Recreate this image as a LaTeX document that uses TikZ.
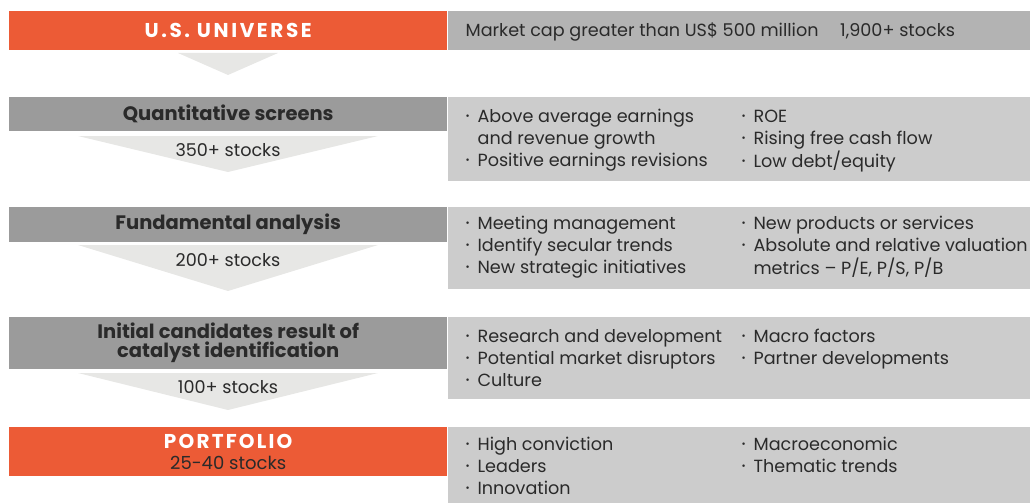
\documentclass[tikz,border=0pt]{standalone}
\usepackage{fontspec}
\setmainfont{Poppins}
\definecolor{brandorange}{HTML}{EC5B36}
\definecolor{stepgray}{HTML}{9B9B9B}
\definecolor{notegray}{HTML}{CCCCCC}
\definecolor{topgray}{HTML}{B3B3B3}
\definecolor{funnelgray}{HTML}{E7E7E5}
\definecolor{ink}{HTML}{2A2A2A}
\newcommand{\bul}{\makebox[12pt][l]{\raisebox{0.3ex}{\fontsize{10}{10}\selectfont •}}}
\newcommand{\ind}{\hspace*{12pt}}
\newcommand{\lines}[1]{\begin{tabular}[t]{@{}l@{}}#1\end{tabular}}

\begin{document}
\begin{tikzpicture}[x=1pt,y=-1pt,font=\fontsize{17.6}{22.3}\selectfont,text=ink,
  stepbar/.style={anchor=north west,inner sep=0pt,minimum width=438pt,align=center,
    font=\fontsize{19.5}{19}\selectfont\bfseries},
  notebox/.style={anchor=north west,inner sep=0pt,minimum width=583pt,fill=notegray},
  items/.style={anchor=base west,inner sep=0pt},
  count/.style={inner sep=0pt}]
\useasboundingbox (0,0) rectangle (1030,503);

% funnel arrows between the steps
\foreach \top/\tip/\hw in {53/75/50,136/172/150,245/291/150,373/410/150}
  \fill[funnelgray] (228-\hw,\top) -- (228+\hw,\top) -- (228,\tip) -- cycle;

% U.S. universe
\node[stepbar,fill=brandorange,minimum height=39pt,text=white,
  font=\fontsize{20}{20}\selectfont\bfseries\addfontfeature{LetterSpace=13}] (univ) at (9,11) {U.S. UNIVERSE};
\node[notebox,fill=topgray,minimum height=39pt] (univnote) at (univ.north east) {};
\node[items] (univtxt) at ([shift={(18,26)}]univnote.north west)
  {Market cap greater than US\$ 500 million\hspace{17pt} 1,900+ stocks};

% quantitative screens
\node[stepbar,fill=stepgray,minimum height=34pt] (quant) at (9,97) {Quantitative screens};
\node[notebox,minimum height=84pt] (quantnote) at (quant.north east) {};
\node[count] (quantn) at (228,150) {350+ stocks};
\node[items] (quanta) at ([shift={(18,25)}]quantnote.north west)
  {\lines{\bul Above average earnings\\\ind and revenue growth\\\bul Positive earnings revisions}};
\node[items] (quantb) at ([shift={(294,25)}]quantnote.north west)
  {\lines{\bul ROE\\\bul Rising free cash flow\\\bul Low debt/equity}};

% fundamental analysis
\node[stepbar,fill=stepgray,minimum height=35pt] (fund) at (9,207) {Fundamental analysis};
\node[notebox,minimum height=82pt] (fundnote) at (fund.north east) {};
\node[count] (fundn) at (228,260) {200+ stocks};
\node[items] (funda) at ([shift={(18,22)}]fundnote.north west)
  {\lines{\bul Meeting management\\\bul Identify secular trends\\\bul New strategic initiatives}};
\node[items] (fundb) at ([shift={(294,22)}]fundnote.north west)
  {\lines{\bul New products or services\\\bul Absolute and relative valuation\\\ind metrics -- P/E, P/S, P/B}};

% catalyst identification
\node[stepbar,fill=stepgray,minimum height=52pt] (cand) at (9,317)
  {Initial candidates result of\\catalyst identification};
\node[notebox,minimum height=82pt] (candnote) at (cand.north east) {};
\node[count] (candn) at (228,387) {100+ stocks};
\node[items] (canda) at ([shift={(18,25)}]candnote.north west)
  {\lines{\bul Research and development\\\bul Potential market disruptors\\\bul Culture}};
\node[items] (candb) at ([shift={(294,25)}]candnote.north west)
  {\lines{\bul Macro factors\\\bul Partner developments}};

% portfolio
\node[stepbar,fill=brandorange,minimum height=49pt,font=\fontsize{18}{21}\selectfont] (port) at (9,427)
  {{\color{white}\fontsize{20}{21}\selectfont\bfseries\addfontfeature{LetterSpace=11}PORTFOLIO}\\25-40 stocks};
\node[notebox,minimum height=76pt] (portnote) at (port.north east) {};
\node[items] (porta) at ([shift={(18,23)}]portnote.north west)
  {\lines{\bul High conviction\\\bul Leaders\\\bul Innovation}};
\node[items] (portb) at ([shift={(294,23)}]portnote.north west)
  {\lines{\bul Macroeconomic\\\bul Thematic trends}};
\end{tikzpicture}
\end{document}
